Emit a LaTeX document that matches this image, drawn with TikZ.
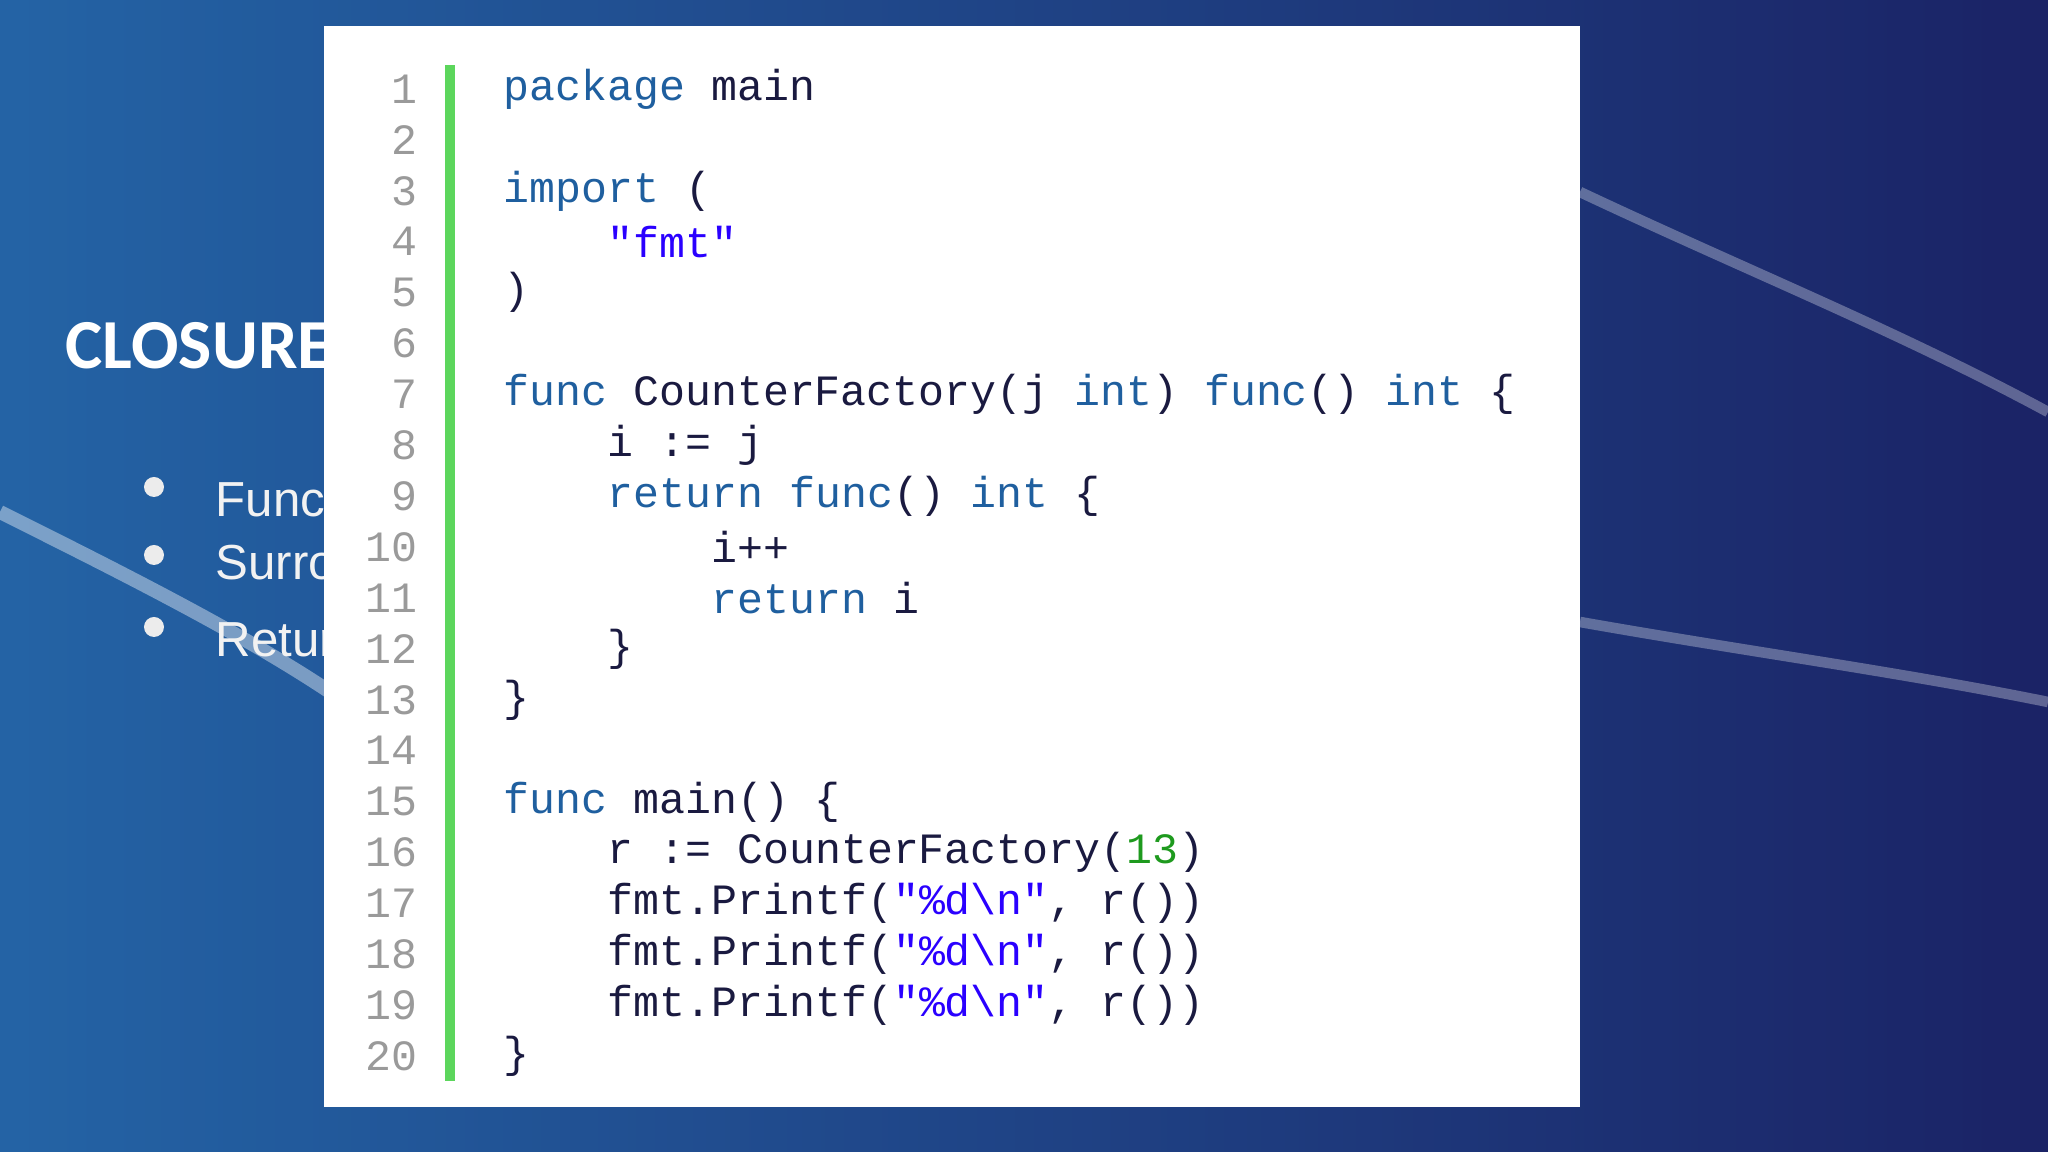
\documentclass[tikz,border=0pt]{standalone}
\usepackage{fontspec}
\setmainfont{Liberation Sans}
\newfontfamily\titlefont{Carlito}
\newfontfamily\codefont{Liberation Mono}
\usetikzlibrary{positioning}
\definecolor{navy}{HTML}{1B2366}
\definecolor{skyblue}{HTML}{2A8FD0}
\definecolor{kwblue}{HTML}{1F5F9F}
\definecolor{plain}{HTML}{1A1A40}
\definecolor{strblue}{HTML}{2A00FF}
\definecolor{numgreen}{HTML}{1E9A1E}
\definecolor{lnum}{HTML}{9A9A9A}
\definecolor{barGreen}{HTML}{5CD65C}
\newcommand\kw[1]{\textcolor{kwblue}{#1}}
\newcommand\str[1]{\textcolor{strblue}{#1}}
\newcommand\num[1]{\textcolor{numgreen}{#1}}
\tikzset{codeline/.style={anchor=west,inner sep=0pt,text=plain,
font=\codefont\fontsize{12.3}{14}\selectfont}}
\tikzset{linenum/.style={anchor=east,inner sep=0pt,text=lnum,
font=\codefont\fontsize{12.3}{14}\selectfont}}
\tikzset{bullettext/.style={anchor=west,inner sep=0pt,text=white!90!gray,
font=\fontsize{14}{16}\selectfont}}

\begin{document}
\begin{tikzpicture}
    \useasboundingbox (0,0) rectangle (20.48,11.52);
    % background
    \shade[top color=navy,middle color=skyblue,bottom color=navy] (0,0) rectangle (20.48,11.52);
    \shade[left color=skyblue,right color=navy,opacity=0.6] (0,0) rectangle (20.48,11.52);
    \draw[white,opacity=0.3,line width=3pt] (15.8,9.6) .. controls (17.5,8.8) and (19,8.2) .. (20.48,7.4);
    \draw[white,opacity=0.3,line width=3pt] (15.8,5.3) .. controls (17.5,5.0) and (19,4.8) .. (20.48,4.5);
    \draw[white,opacity=0.4,line width=4pt] (0,6.4) .. controls (1.2,5.8) and (2.4,5.2) .. (3.3,4.6);
    % slide text
    \node[anchor=west,inner sep=0pt,text=white,font=\titlefont\bfseries\fontsize{20}{22}\selectfont] (title) at (0.65,8.06) {CLOSURE};
    \node[bullettext] (b1) at (2.15,6.53) {Functions};
    \node[bullettext] (b2) at (2.15,5.85) {Surrounding};
    \node[bullettext] (b3) at (2.15,5.12) {Return};
    \foreach \y in {6.65,5.97,5.25} \fill[white!85!gray] (1.54,\y) circle (0.1);
    % code panel
    \fill[white] (3.24,0.45) rectangle (15.80,11.26);
    \fill[barGreen] (4.45,0.71) rectangle (4.55,10.87);
    \foreach \n in {1,...,20}
        \node[linenum] (n\n) at (4.18,{10.63-0.509*(\n-1)}) {\n};
    \node[codeline] (l1) at (5.03,10.63) {\kw{package} main};
    \node[codeline] (l3) at (5.03,9.61) {\kw{import} (};
    \node[codeline] (l4) at (6.07,9.10) {\str{"fmt"}};
    \node[codeline] (l5) at (5.03,8.60) {)};
    \node[codeline] (l7) at (5.03,7.58) {\kw{func} CounterFactory(j \kw{int}) \kw{func}() \kw{int} \{};
    \node[codeline] (l8) at (6.07,7.07) {i := j};
    \node[codeline] (l9) at (6.07,6.56) {\kw{return} \kw{func}() \kw{int} \{};
    \node[codeline] (l10) at (7.11,6.05) {i++};
    \node[codeline] (l11) at (7.11,5.54) {\kw{return} i};
    \node[codeline] (l12) at (6.07,5.03) {\}};
    \node[codeline] (l13) at (5.03,4.52) {\}};
    \node[codeline] (l15) at (5.03,3.50) {\kw{func} main() \{};
    \node[codeline] (l16) at (6.07,3.00) {r := CounterFactory(\num{13})};
    \node[codeline] (l17) at (6.07,2.49) {fmt.Printf(\str{"\%d\textbackslash n"}, r())};
    \node[codeline] (l18) at (6.07,1.98) {fmt.Printf(\str{"\%d\textbackslash n"}, r())};
    \node[codeline] (l19) at (6.07,1.47) {fmt.Printf(\str{"\%d\textbackslash n"}, r())};
    \node[codeline] (l20) at (5.03,0.96) {\}};
\end{tikzpicture}
\end{document}
